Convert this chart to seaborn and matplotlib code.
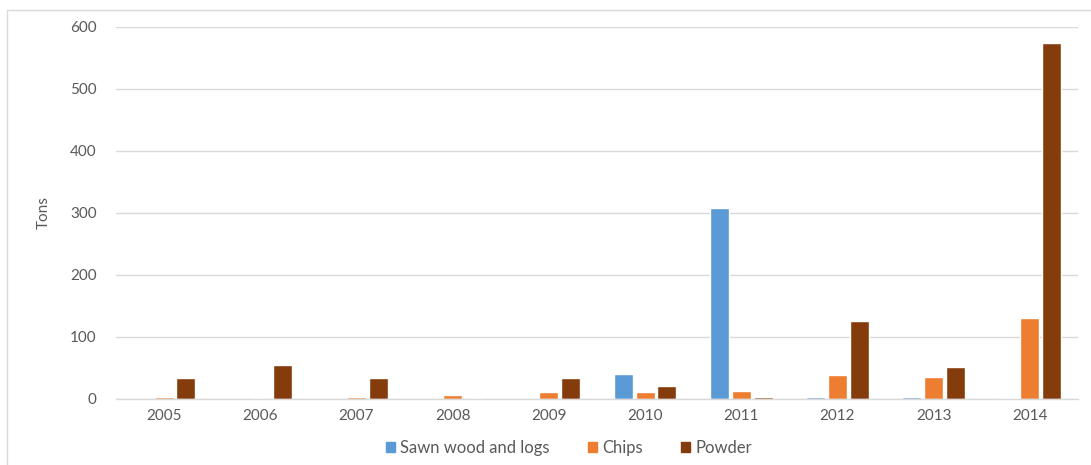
import matplotlib
matplotlib.use("Agg")
import matplotlib.pyplot as plt
import seaborn as sns
import pandas as pd
from matplotlib.patches import Rectangle

years = ["2005", "2006", "2007", "2008", "2009", "2010", "2011", "2012", "2013", "2014"]
sawn = [0, 0, 0, 0, 0, 40, 308, 4, 4, 2]
chips = [4, 2, 4, 6, 12, 12, 13, 38, 36, 131]
powder = [34, 55, 34, 2, 34, 21, 4, 126, 51, 574]
series = ["Sawn wood and logs", "Chips", "Powder"]
colors = ["#5B9BD5", "#ED7D31", "#843C0C"]

rows = []
for name, vals in zip(series, [sawn, chips, powder]):
    for y, v in zip(years, vals):
        rows.append({"Year": y, "Series": name, "Tons": v})
df = pd.DataFrame(rows)

sns.set_style("white")
plt.rcParams["font.family"] = ["Lato", "DejaVu Sans"]

fig = plt.figure(figsize=(10.91, 4.65), dpi=100)
ax = fig.add_axes([116 / 1091, 1 - 399 / 465, (1078 - 116) / 1091, (399 - 27) / 465])

sns.barplot(data=df, x="Year", y="Tons", hue="Series", order=years, hue_order=series,
            palette=colors, width=0.68, gap=0.12, ax=ax, errorbar=None, saturation=1,
            legend=True)

ax.set_ylim(0, 600)
ax.set_xlim(-0.5, 9.5)
ax.set_yticks(range(0, 601, 100))
ax.yaxis.grid(True, color="#D9D9D9", linewidth=1)
ax.set_axisbelow(True)
for s in ["top", "right", "left"]:
    ax.spines[s].set_visible(False)
ax.spines["bottom"].set_color("#D9D9D9")
ax.spines["bottom"].set_linewidth(1)
ax.tick_params(axis="both", length=0, labelsize=11, labelcolor="#595959")
ax.tick_params(axis="y", pad=14)
ax.tick_params(axis="x", pad=7)
ax.set_xlabel("")
ax.set_ylabel("Tons", fontsize=11, color="#595959", labelpad=14)

ax.get_legend().remove()
handles = [Rectangle((0, 0), 1, 1, color=c) for c in colors]
fig.legend(handles, series, loc="center", bbox_to_anchor=(569 / 1091, 1 - 448 / 465),
           ncol=3, frameon=False, fontsize=12, labelcolor="#595959",
           handlelength=0.55, handleheight=0.55, handletextpad=0.3, columnspacing=2.3)

# outer chart border (left and top visible)
fig.add_artist(Rectangle((7 / 1091, -0.1), 1.2, 1 - 10 / 465 + 0.1, transform=fig.transFigure,
                         fill=False, edgecolor="#D9D9D9", linewidth=1))

fig.savefig("out.png", dpi=100)
